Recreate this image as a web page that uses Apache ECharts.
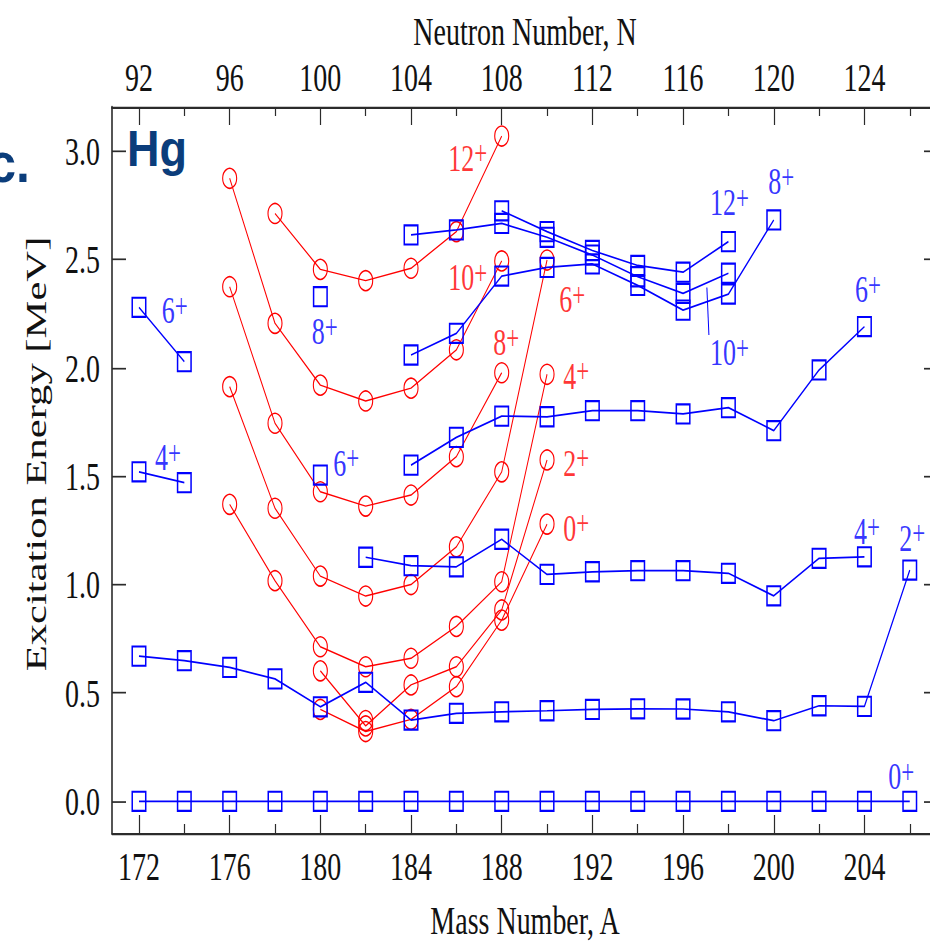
<!DOCTYPE html>
<html>
<head>
<meta charset="utf-8">
<script src="https://cdn.jsdelivr.net/npm/echarts@6/dist/echarts.min.js"></script>
<style>
  html, body { margin: 0; padding: 0; background: #fff; overflow: hidden; width: 930px; height: 942px; }
  #chart { width: 930px; height: 663px; transform-origin: 0 0; }
</style>
</head>
<body>
<div id="chart"></div>
<script>
// The figure is drawn on a 930x663 canvas and stretched vertically to 942 px,
// which gives the tall serif lettering and elliptical markers of the plot.
const STRETCH = 942 / 663;
document.getElementById('chart').style.transform = 'scaleY(' + STRETCH + ')';

// ---- axis ticks -------------------------------------------------------
const massTicks = [172, 176, 180, 184, 188, 192, 196, 200, 204];
const massMinorTicks = [174, 178, 182, 186, 190, 194, 198, 202, 206];
const neutronTicks = [92, 96, 100, 104, 108, 112, 116, 120, 124];
const energyTicks = [0.0, 0.5, 1.0, 1.5, 2.0, 2.5, 3.0];

// ---- weakly deformed (oblate) levels, blue squares ----------------------
const massBlue = [172, 174, 176, 178, 180, 182, 184, 186, 188, 190, 192, 194, 196, 198, 200, 202, 204, 206];
const blue0 = [0, 0, 0, 0, 0, 0, 0, 0, 0, 0, 0, 0, 0, 0, 0, 0, 0, 0];
const blue2 = [0.670, 0.649, 0.618, 0.565, 0.436, 0.549, 0.375, 0.406, 0.413, 0.418, 0.424, 0.427, 0.426, 0.413, 0.372, 0.441, 0.438, 1.067];
const blue4 = [1.520, 1.470, null, null, null, 1.126, 1.087, 1.082, 1.209, 1.047, 1.059, 1.064, 1.064, 1.052, 0.948, 1.121, 1.128, null];
const blue6 = [2.279, 2.028, null, null, 1.505, null, 1.551, 1.679, 1.777, 1.774, 1.802, 1.802, 1.787, 1.816, 1.710, 1.990, 2.190, null];
const blue8 = [null, null, null, null, 2.328, null, 2.059, 2.159, 2.423, 2.463, 2.479, 2.380, 2.266, 2.340, 2.682, null, null, null];
const blue10 = [null, null, null, null, null, null, 2.613, 2.636, 2.666, 2.602, 2.520, 2.420, 2.343, 2.436, null, null, null, null];
const blue12 = [null, null, null, null, null, null, null, null, 2.724, 2.628, 2.541, 2.472, 2.441, 2.582, null, null, null, null];

// ---- strongly deformed (prolate intruder) levels, red circles ----------
const massRed = [176, 178, 180, 182, 184, 186, 188, 190];
const red0 = [null, null, 0.424, 0.322, 0.378, 0.529, 0.836, 1.279];
const red2 = [null, null, 0.602, 0.348, 0.537, 0.621, 0.883, 1.575];
const red4 = [1.370, 1.018, 0.713, 0.621, 0.660, 0.807, 1.013, 1.970];
const red6 = [1.913, 1.352, 1.039, 0.947, 1.000, 1.174, 1.520, 2.497];
const red8 = [2.374, 1.744, 1.428, 1.362, 1.413, 1.590, 1.977, null];
const red10 = [2.874, 2.205, 1.920, 1.847, 1.906, 2.083, 2.493, null];
const red12 = [null, 2.712, 2.454, 2.402, 2.459, 2.628, 3.069, null];
const redExtra = [null, null, null, 0.373, null, null, null, null];

// ---- spin tags: [spin, mass number, energy] ----------------------------
const redTags = [
  ['12', 185.64, 2.966], ['10', 185.64, 2.413], ['8', 187.63, 2.113],
  ['6', 190.54, 2.313], ['4', 190.72, 1.960], ['2', 190.72, 1.559], ['0', 190.72, 1.259]
];
const blueTags = [
  ['6', 173.00, 2.263], ['4', 172.71, 1.586], ['8', 179.62, 2.166], ['6', 180.57, 1.559],
  ['12', 197.19, 2.762], ['8', 199.76, 2.858], ['10', 197.19, 2.067],
  ['6', 203.58, 2.359], ['4', 203.54, 1.244], ['2', 205.54, 1.213], ['0', 205.05, 0.114]
];
// pointer from the blue 10+ tag to its band: [mass, energy] tail and head
const pointerTail = [197.14, 2.151];
const pointerHead = [197.05, 2.370];

// ---- styling ------------------------------------------------------------
const RED = '#ff0000';
const BLUE = '#0000ff';
const AXIS = '#2b2b2b';
const SERIF = '"Liberation Serif", "Times New Roman", serif';
const A_MIN = 170.81, A_MAX = 207.245;
const E_MIN = -0.146, E_MAX = 3.203;

function pairs(masses, values) {
  return masses.map((a, i) => [a, values[i] === null ? '-' : values[i]]);
}

function band(masses, values, color, shape) {
  const square = shape === 'rect';
  return {
    type: 'line',
    data: pairs(masses, values),
    symbol: shape,
    symbolSize: square ? 13.5 : 14,
    showAllSymbol: true,
    connectNulls: false,
    xAxisIndex: 0,
    yAxisIndex: 0,
    lineStyle: { color: color, width: square ? 1.2 : 1 },
    itemStyle: { color: 'rgba(0,0,0,0)', borderColor: color, borderWidth: square ? 1.5 : 1.1 },
    emphasis: { disabled: true },
    silent: true,
    z: square ? 3 : 2
  };
}

function tagSeries(tags, color) {
  return {
    type: 'scatter',
    data: tags.map(t => ({ name: t[0], value: [t[1], t[2]] })),
    symbolSize: 0,
    itemStyle: { color: 'rgba(0,0,0,0)' },
    silent: true,
    z: 5,
    label: {
      show: true,
      position: 'right',
      distance: 0,
      formatter: p => '{d|' + p.name + '}{p|+}',
      rich: {
        d: { fontFamily: SERIF, fontSize: 26, lineHeight: 30, color: color },
        p: { fontFamily: SERIF, fontSize: 23, lineHeight: 18, verticalAlign: 'top', color: color }
      }
    }
  };
}

function xAxisDef(position, ticks, len, withLabels, labelFn) {
  return {
    type: 'value', position: position, min: A_MIN, max: A_MAX,
    axisLine: { show: withLabels, onZero: false, lineStyle: { color: AXIS, width: 1.6 } },
    axisTick: { show: true, inside: true, length: len, customValues: ticks, lineStyle: { color: AXIS, width: 1.2 } },
    axisLabel: withLabels ? {
      show: true, customValues: ticks, margin: position === 'top' ? 7 : 9,
      fontFamily: SERIF, fontSize: 28, color: '#111', formatter: labelFn
    } : { show: false },
    splitLine: { show: false }
  };
}

function yAxisDef(position, withLabels) {
  return {
    type: 'value', position: position, min: E_MIN, max: E_MAX,
    axisLine: { show: true, onZero: false, lineStyle: { color: AXIS, width: 1.6 } },
    axisTick: { show: true, inside: true, length: 14, customValues: energyTicks, lineStyle: { color: AXIS, width: 1.2 } },
    axisLabel: withLabels ? {
      show: true, customValues: energyTicks, margin: 12,
      fontFamily: SERIF, fontSize: 28, color: '#111', formatter: v => v.toFixed(1)
    } : { show: false },
    splitLine: { show: false }
  };
}

const navy = '#0b3d7b';
const option = {
  animation: false,
  backgroundColor: '#ffffff',
  grid: {
    left: 112, top: 107 / STRETCH, width: 826, height: 726 / STRETCH,
    containLabel: false, outerBoundsMode: 'none'
  },
  xAxis: [
    xAxisDef('bottom', massTicks, 18 / STRETCH, true, v => String(v)),
    xAxisDef('bottom', massMinorTicks, 9 / STRETCH, false),
    xAxisDef('top', massTicks, 18 / STRETCH, true, v => String(neutronTicks[massTicks.indexOf(v)])),
    xAxisDef('top', massMinorTicks, 9 / STRETCH, false)
  ],
  yAxis: [yAxisDef('left', true), yAxisDef('right', false)],
  graphic: [
    {
      type: 'text', x: 525, y: 31 / STRETCH, silent: true,
      style: { text: 'Neutron Number, N', fontFamily: SERIF, fontSize: 28, fill: '#111',
               textAlign: 'center', textVerticalAlign: 'middle', align: 'center', verticalAlign: 'middle' }
    },
    {
      type: 'text', x: 525, y: 920 / STRETCH, silent: true,
      style: { text: 'Mass Number, A', fontFamily: SERIF, fontSize: 28, fill: '#111',
               textAlign: 'center', textVerticalAlign: 'middle', align: 'center', verticalAlign: 'middle' }
    },
    {
      type: 'text', x: 36, y: 454 / STRETCH, rotation: Math.PI / 2, silent: true,
      style: { text: 'Excitation Energy [MeV]', fontFamily: SERIF, fontSize: 30, fill: '#111',
               textAlign: 'center', textVerticalAlign: 'middle', align: 'center', verticalAlign: 'middle' }
    },
    {
      type: 'text', x: 127, y: 148.3 / STRETCH, scaleY: 1.096 / STRETCH, silent: true,
      style: { text: 'Hg', fontFamily: '"Liberation Sans", Arial, sans-serif', fontWeight: 'bold', fontSize: 45, fill: navy,
               textAlign: 'left', textVerticalAlign: 'middle', align: 'left', verticalAlign: 'middle' }
    },
    {
      type: 'text', x: 30, y: 163.1 / STRETCH, scaleY: 1.096 / STRETCH, silent: true,
      style: { text: 'c.', fontFamily: '"Liberation Sans", Arial, sans-serif', fontWeight: 'bold', fontSize: 50, fill: navy,
               textAlign: 'right', textVerticalAlign: 'middle', align: 'right', verticalAlign: 'middle' }
    }
  ],
  series: [
    band(massRed, red0, RED, 'circle'),
    band(massRed, red2, RED, 'circle'),
    band(massRed, red4, RED, 'circle'),
    band(massRed, red6, RED, 'circle'),
    band(massRed, red8, RED, 'circle'),
    band(massRed, red10, RED, 'circle'),
    band(massRed, red12, RED, 'circle'),
    band(massRed, redExtra, RED, 'circle'),
    band(massBlue, blue0, BLUE, 'rect'),
    band(massBlue, blue2, BLUE, 'rect'),
    band(massBlue, blue4, BLUE, 'rect'),
    band(massBlue, blue6, BLUE, 'rect'),
    band(massBlue, blue8, BLUE, 'rect'),
    Object.assign(band(massBlue, blue10, BLUE, 'rect'), {
      markLine: {
        silent: true,
        symbol: ['none', 'arrow'],
        symbolSize: [0, 9],
        label: { show: false },
        lineStyle: { color: BLUE, width: 1, type: 'solid' },
        emphasis: { disabled: true },
        data: [[{ coord: pointerTail }, { coord: pointerHead }]]
      }
    }),
    band(massBlue, blue12, BLUE, 'rect'),
    tagSeries(redTags, RED),
    tagSeries(blueTags, BLUE)
  ]
};

const chart = echarts.init(document.getElementById('chart'), null, { renderer: 'svg' });
chart.setOption(option);
</script>
</body>
</html>
